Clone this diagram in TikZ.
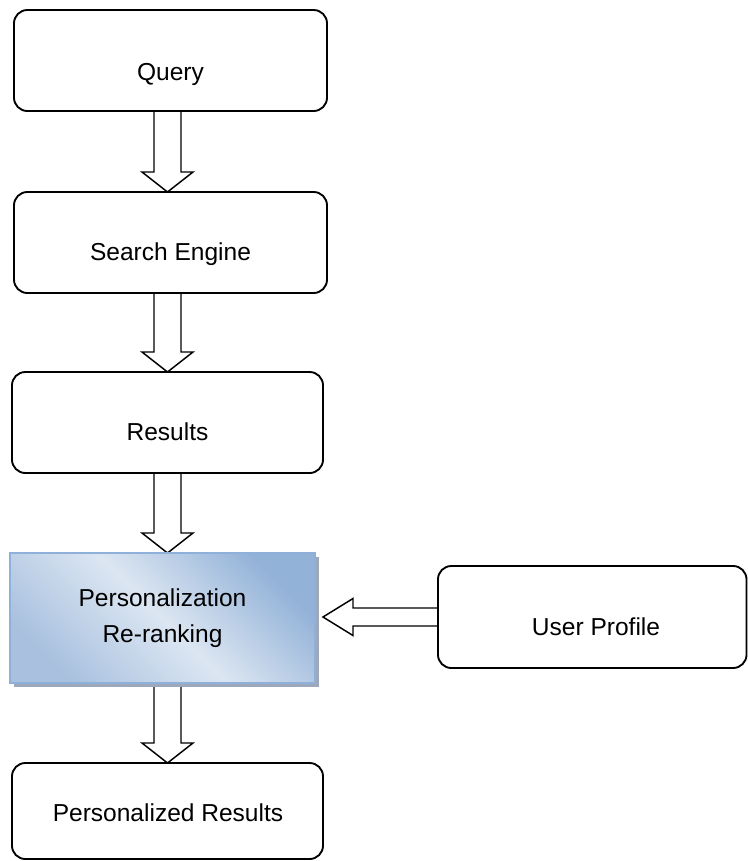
\documentclass[tikz,border=0pt]{standalone}
\usepackage{fontspec}
\setmainfont{Liberation Sans}
\usetikzlibrary{calc,shadows}
\definecolor{paleBlue}{HTML}{DCE6F2}
\definecolor{midBlue}{HTML}{A9C1DF}
\definecolor{deepBlue}{HTML}{93B2D8}
\definecolor{edgeBlue}{HTML}{8FB0D8}
\definecolor{shadowGrey}{HTML}{9DA8BB}
\pgfdeclarelayer{background}
\pgfsetlayers{background,main}

% hollow block arrow pointing down from one box to the next, along the spine
\newcommand\flowdown[2]{%
  \draw[hollowarrow]
    ($(#1.south -| spine)+(-13.5,0)$) -- ($(#2.north -| spine)+(-13.5,-20)$)
    -- ($(#2.north -| spine)+(-25.5,-20)$) -- (#2.north -| spine)
    -- ($(#2.north -| spine)+(25.5,-20)$) -- ($(#2.north -| spine)+(13.5,-20)$)
    -- ($(#1.south -| spine)+(13.5,0)$);}

\begin{document}
\begin{tikzpicture}[x=0.75pt,y=-0.75pt,
  flowbox/.style={draw=black, fill=white, line width=1.4pt, rounded corners=10pt,
    inner sep=0pt, outer sep=0pt},
  caption/.style={font=\fontsize{18.4}{22}\selectfont, anchor=base, inner sep=0pt},
  hollowarrow/.style={draw=black, fill=white, line width=1.1pt, line join=miter}]
\useasboundingbox (0,0) rectangle (748,861);
\coordinate (spine) at (167.5,0);

% boxes of the pipeline
\node[flowbox, minimum width=234.75pt, minimum height=75.75pt] (query) at (170.5,60.5) {};
\node[caption] (queryText) at (170.5,80) {Query};

\node[flowbox, minimum width=234.75pt, minimum height=75.75pt] (engine) at (170.5,242.5) {};
\node[caption] (engineText) at (170.5,260) {Search Engine};

\node[flowbox, minimum width=233.25pt, minimum height=75.75pt] (results) at (167.5,422.5) {};
\node[caption] (resultsText) at (167.5,440) {Results};

\node[draw=edgeBlue, line width=0.8pt, inner sep=0pt, outer sep=0pt,
  minimum width=228.75pt, minimum height=97.5pt,
  bottom color=midBlue, top color=deepBlue, middle color=paleBlue, shading angle=-45,
  drop shadow={shadow xshift=3pt, shadow yshift=-3pt, fill=shadowGrey, opacity=1},
  font=\fontsize{18.4}{27}\selectfont, align=center] (rerank) at (162.5,618)
  {Personalization\\Re-ranking};

\node[flowbox, minimum width=233.25pt, minimum height=72pt] (final) at (167.5,811) {};
\node[caption] (finalText) at (168,821) {Personalized Results};

\node[flowbox, minimum width=231.4pt, minimum height=76.5pt] (profile) at (592.25,617) {};
\node[caption] (profileText) at (596,635) {User Profile};

% block arrows sit behind the boxes
\begin{pgfonlayer}{background}
\flowdown{query}{engine}
\flowdown{engine}{results}
\flowdown{results}{rerank}
\flowdown{rerank}{final}
\coordinate (tip) at ($(rerank.east |- profile.west)+(8,0)$);
\draw[hollowarrow]
  ($(profile.west)+(0,-9)$) -- ($(tip)+(30,-9)$) -- ($(tip)+(30,-18.5)$)
  -- (tip) -- ($(tip)+(30,18.5)$) -- ($(tip)+(30,9)$) -- ($(profile.west)+(0,9)$);
\end{pgfonlayer}
\end{tikzpicture}
\end{document}
